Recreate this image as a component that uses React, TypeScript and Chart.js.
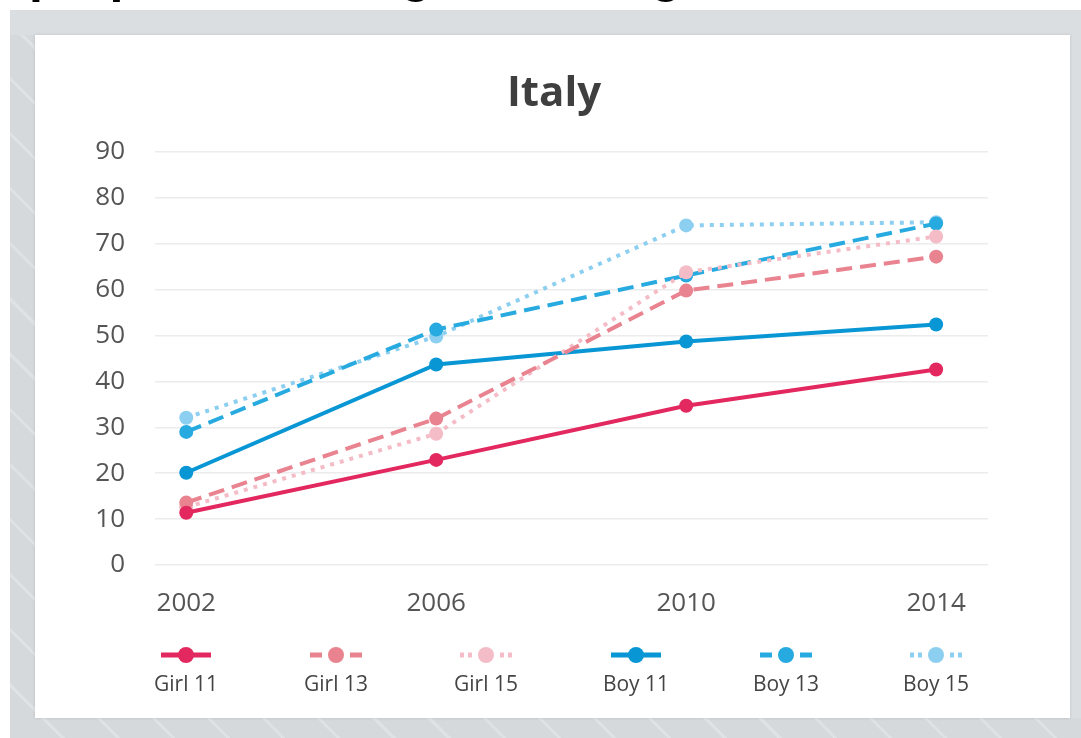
import React, { useEffect, useRef } from "react";
import { Chart, registerables } from "chart.js";

Chart.register(...registerables);

const years = [2002, 2006, 2010, 2014];
const girl11 = [11.4, 22.9, 34.7, 42.6];
const girl13 = [13.6, 31.9, 59.8, 67.2];
const girl15 = [12.6, 28.6, 63.8, 71.6];
const boy11 = [20.1, 43.7, 48.7, 52.4];
const boy13 = [29.0, 51.3, 63.1, 74.4];
const boy15 = [32.1, 49.8, 74.0, 74.7];
const seriesLabels = ["Girl 11", "Girl 13", "Girl 15", "Boy 11", "Boy 13", "Boy 15"];
const seriesColors = ["#e2285f", "#e9838f", "#f4bcc6", "#0996d4", "#27aadf", "#8dcff0"];
const seriesStyles = ["solid", "dash", "dot", "solid", "dash", "dot"];
const chartTitle = "Italy";
const yTicks = [0, 10, 20, 30, 40, 50, 60, 70, 80, 90];

const FONT = "'Open Sans', 'Noto Sans', sans-serif";

export default function App() {
  const ref = useRef<HTMLCanvasElement>(null);

  useEffect(() => {
    document.body.style.margin = "0";
    const canvas = ref.current!;
    const allData = [girl11, girl13, girl15, boy11, boy13, boy15];
    const dashFor = (s: string) => (s === "dash" ? [16, 8] : s === "dot" ? [4, 6] : []);

    const datasets = allData.map((d, i) => ({
      label: seriesLabels[i],
      data: years.map((x, j) => ({ x, y: d[j] })),
      borderColor: seriesColors[i],
      backgroundColor: seriesColors[i],
      pointBackgroundColor: seriesColors[i],
      pointBorderWidth: 0,
      pointRadius: 7,
      borderWidth: 4,
      borderDash: dashFor(seriesStyles[i]),
      tension: 0,
      fill: false,
    }));

    const decor = {
      id: "decor",
      afterDraw(chart: any) {
        const ctx = chart.ctx as CanvasRenderingContext2D;
        ctx.save();
        // title
        ctx.fillStyle = "#3f3f3f";
        ctx.font = `bold 42px ${FONT}`;
        ctx.textAlign = "center";
        ctx.textBaseline = "alphabetic";
        ctx.fillText(chartTitle, 519, 71);
        // legend
        const sy = 620;
        for (let i = 0; i < seriesLabels.length; i++) {
          const cx = 151 + i * 150;
          const c = seriesColors[i];
          const st = seriesStyles[i];
          ctx.strokeStyle = c;
          ctx.fillStyle = c;
          ctx.lineWidth = 5;
          ctx.setLineDash([]);
          const seg = (a: number, b: number) => {
            ctx.beginPath();
            ctx.moveTo(cx + a, sy);
            ctx.lineTo(cx + b, sy);
            ctx.stroke();
          };
          if (st === "solid") {
            seg(-25, 25);
          } else if (st === "dash") {
            seg(-26, -14);
            seg(14, 26);
          } else {
            seg(-26, -22);
            seg(-18, -14);
            seg(14, 18);
            seg(22, 26);
          }
          ctx.beginPath();
          ctx.arc(cx, sy, 8, 0, Math.PI * 2);
          ctx.fill();
          ctx.fillStyle = "#444";
          ctx.font = `21px ${FONT}`;
          ctx.textAlign = "center";
          ctx.textBaseline = "middle";
          ctx.fillText(seriesLabels[i], cx, 650);
        }
        ctx.restore();
      },
    };

    const chart = new Chart(canvas, {
      type: "line",
      data: { datasets: datasets as any },
      plugins: [decor],
      options: {
        animation: false,
        responsive: false,
        devicePixelRatio: 1,
        layout: { padding: { left: 0, right: 82, top: 117, bottom: 83 } },
        plugins: { legend: { display: false }, tooltip: { enabled: false }, title: { display: false } },
        scales: {
          x: {
            type: "linear",
            min: 2001.5,
            max: 2014.83,
            afterFit(s: any) {
              s.height = 70;
            },
            afterBuildTicks(s: any) {
              s.ticks = years.map((v) => ({ value: v }));
            },
            grid: { display: false, drawTicks: false },
            border: { display: false },
            ticks: {
              padding: 23,
              color: "#555",
              font: { family: FONT, size: 26 },
              callback: (v: any) => String(v),
              autoSkip: false,
              maxRotation: 0,
            },
          },
          y: {
            min: 0,
            max: 90,
            afterFit(s: any) {
              s.width = 120;
            },
            afterBuildTicks(s: any) {
              s.ticks = yTicks.map((v) => ({ value: v }));
            },
            grid: { color: "#ececec", lineWidth: 1.5, drawTicks: false },
            border: { display: false },
            ticks: {
              padding: 30,
              color: "#555",
              font: { family: FONT, size: 26 },
              callback: (v: any) => String(v),
            },
          },
        },
      },
    });
    return () => chart.destroy();
  }, []);

  const stripes =
    "repeating-linear-gradient(45deg, #d5d9dc 0px, #d5d9dc 36px, #dfe2e5 36px, #dfe2e5 39px)";

  return (
    <div
      style={{
        position: "absolute",
        left: 0,
        top: 0,
        width: 1081,
        height: 738,
        overflow: "hidden",
        background: "#ffffff",
      }}
    >
      <div
        style={{
          position: "absolute",
          left: 0,
          top: 0,
          width: 1081,
          height: 10,
          overflow: "hidden",
        }}
      >
        <div
          style={{
            position: "absolute",
            left: 29,
            top: -50,
            whiteSpace: "nowrap",
            fontFamily: "'Liberation Sans', Arial, sans-serif",
            fontWeight: "bold",
            fontSize: 50,
            lineHeight: "50px",
            color: "#000",
          }}
        >
          proportion doing this at high levels
        </div>
      </div>
      <div
        style={{
          position: "absolute",
          left: 10,
          top: 10,
          width: 1071,
          height: 728,
          background: "#dadee1",
        }}
      />
      <div
        style={{
          position: "absolute",
          left: 10,
          top: 35,
          width: 25,
          height: 703,
          background: stripes,
        }}
      />
      <div
        style={{
          position: "absolute",
          left: 10,
          top: 718,
          width: 1071,
          height: 20,
          background: stripes,
        }}
      />
      <div
        style={{
          position: "absolute",
          left: 35,
          top: 35,
          width: 1035,
          height: 683,
          background: "#ffffff",
          boxShadow: "0 0 3px rgba(0,0,0,0.12)",
        }}
      >
        <canvas ref={ref} width={1035} height={683} style={{ width: 1035, height: 683, display: "block" }} />
      </div>
    </div>
  );
}
